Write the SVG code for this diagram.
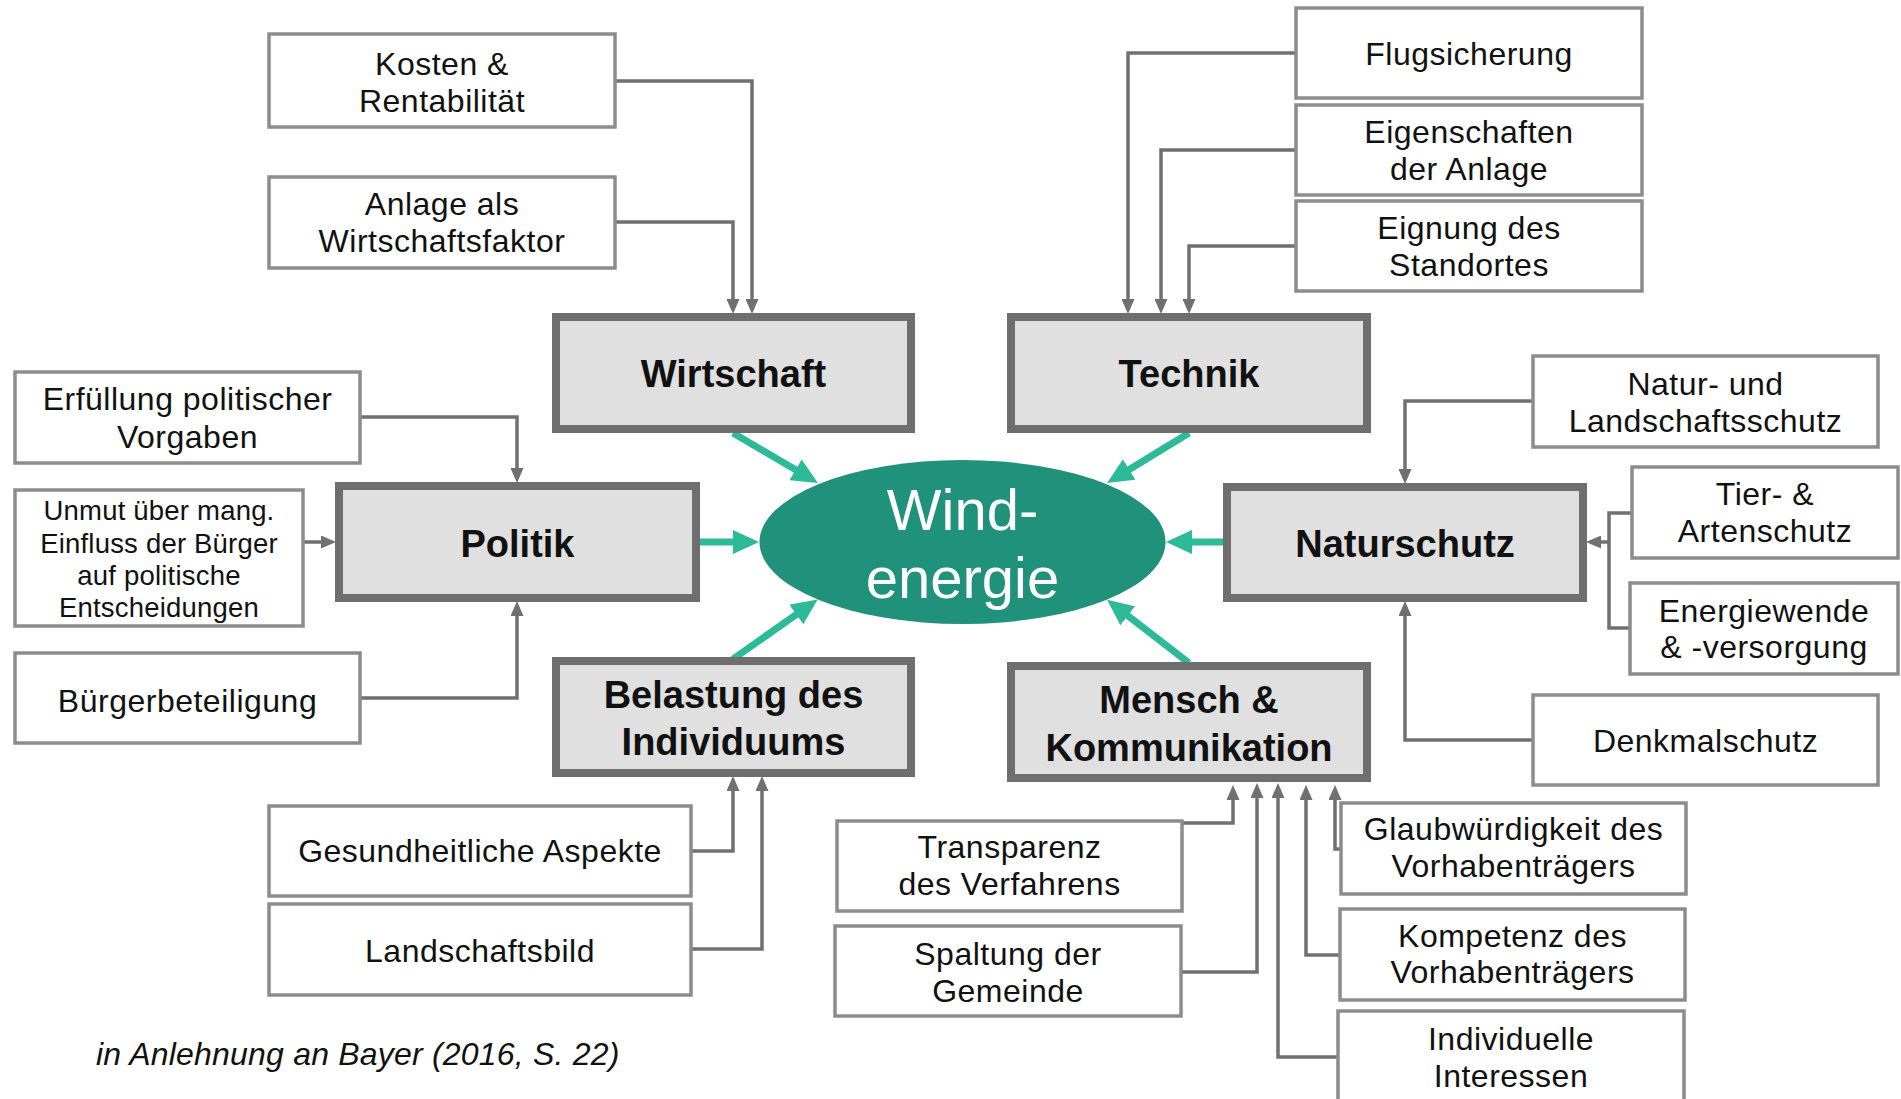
<svg xmlns="http://www.w3.org/2000/svg" width="1901" height="1099" viewBox="0 0 1901 1099">
<style>
.sb{fill:#fff;stroke:#8c8c8c;stroke-width:3.5}
.cb{fill:#e0e0e0;stroke:#6e6e6e;stroke-width:8}
.st{font-family:"Liberation Sans",Arial,sans-serif;font-size:32px;letter-spacing:0.5px;fill:#111;text-anchor:middle}
.sm{font-size:27.5px;letter-spacing:0.2px}
.ct{font-family:"Liberation Sans",Arial,sans-serif;font-size:38px;font-weight:bold;fill:#111;text-anchor:middle}
.gl{fill:none;stroke:#707070;stroke-width:3.5}
.gr{fill:none;stroke:#2dba98;stroke-width:7}
.cap{font-family:"Liberation Sans",Arial,sans-serif;font-size:32px;letter-spacing:0.2px;font-style:italic;fill:#111}
</style>
<defs>
<marker id="ga" markerUnits="userSpaceOnUse" viewBox="0 0 15 13" refX="0" refY="6.5" markerWidth="15" markerHeight="13" orient="auto"><path d="M0,0 L15,6.5 L0,13 z" fill="#707070"/></marker>
<marker id="gn" markerUnits="userSpaceOnUse" viewBox="0 0 26 24" refX="1" refY="12" markerWidth="26" markerHeight="24" orient="auto"><path d="M0,0 L26,12 L0,24 z" fill="#2dba98"/></marker>
</defs>

<g id="connectors">
<path class="gl" d="M615,81 H752 V299" marker-end="url(#ga)"/>
<path class="gl" d="M615,222 H733 V299" marker-end="url(#ga)"/>
<path class="gl" d="M1296,53 H1128 V299" marker-end="url(#ga)"/>
<path class="gl" d="M1296,150 H1161 V299" marker-end="url(#ga)"/>
<path class="gl" d="M1296,246 H1189 V299" marker-end="url(#ga)"/>
<path class="gl" d="M360,417 H517 V468" marker-end="url(#ga)"/>
<path class="gl" d="M303,542 H321" marker-end="url(#ga)"/>
<path class="gl" d="M360,698 H517 V616" marker-end="url(#ga)"/>
<path class="gl" d="M691,851 H733 V791" marker-end="url(#ga)"/>
<path class="gl" d="M691,949 H762 V791" marker-end="url(#ga)"/>
<path class="gl" d="M1182,823 H1233 V800" marker-end="url(#ga)"/>
<path class="gl" d="M1181,972 H1257 V798" marker-end="url(#ga)"/>
<path class="gl" d="M1338,1057 H1278 V798" marker-end="url(#ga)"/>
<path class="gl" d="M1340,955 H1306 V800" marker-end="url(#ga)"/>
<path class="gl" d="M1341,849 H1335 V800" marker-end="url(#ga)"/>
<path class="gl" d="M1533,401 H1405 V469" marker-end="url(#ga)"/>
<path class="gl" d="M1632,513 H1609 V628 H1630"/>
<path class="gl" d="M1609,542 H1601" marker-end="url(#ga)"/>
<path class="gl" d="M1533,740 H1405 V616" marker-end="url(#ga)"/>
<path class="gr" d="M733,433 L796.4,470.3" marker-end="url(#gn)"/>
<path class="gr" d="M1189,433 L1128.4,470" marker-end="url(#gn)"/>
<path class="gr" d="M700,542 L734,542" marker-end="url(#gn)"/>
<path class="gr" d="M1223,542 L1191,542" marker-end="url(#gn)"/>
<path class="gr" d="M733,659 L797.2,613.9" marker-end="url(#gn)"/>
<path class="gr" d="M1189,663 L1126.9,615.1" marker-end="url(#gn)"/>
</g>

<g id="windenergie">
<ellipse cx="962.5" cy="542" rx="203" ry="82" fill="#20917a"/>
<text x="962.5" y="530" font-family="Liberation Sans, Arial, sans-serif" font-size="58" fill="#fff" text-anchor="middle">Wind-</text>
<text x="962.5" y="598" font-family="Liberation Sans, Arial, sans-serif" font-size="58" fill="#fff" text-anchor="middle">energie</text>
</g>

<g id="wirtschaft"><rect class="cb" x="556" y="317" width="355" height="112"/><text class="ct" x="733.5" y="387">Wirtschaft</text></g>
<g id="technik"><rect class="cb" x="1011" y="317" width="356" height="112"/><text class="ct" x="1189" y="387">Technik</text></g>
<g id="politik"><rect class="cb" x="339" y="486" width="357" height="112"/><text class="ct" x="517.5" y="557">Politik</text></g>
<g id="naturschutz"><rect class="cb" x="1227" y="487" width="356" height="111"/><text class="ct" x="1405" y="557">Naturschutz</text></g>
<g id="belastung"><rect class="cb" x="556" y="661" width="355" height="112"/><text class="ct" x="733.5" y="708">Belastung des</text><text class="ct" x="733.5" y="755">Individuums</text></g>
<g id="mensch"><rect class="cb" x="1011" y="666" width="356" height="112"/><text class="ct" x="1189" y="713">Mensch &amp;</text><text class="ct" x="1189" y="761">Kommunikation</text></g>

<g id="kosten"><rect class="sb" x="269" y="34" width="346" height="93"/><text class="st" x="442" y="75">Kosten &amp;</text><text class="st" x="442" y="112">Rentabilität</text></g>
<g id="anlage"><rect class="sb" x="269" y="177" width="346" height="91"/><text class="st" x="442" y="215">Anlage als</text><text class="st" x="442" y="252">Wirtschaftsfaktor</text></g>
<g id="flugsicherung"><rect class="sb" x="1296" y="8" width="346" height="90"/><text class="st" x="1469" y="65">Flugsicherung</text></g>
<g id="eigenschaften"><rect class="sb" x="1296" y="105" width="346" height="90"/><text class="st" x="1469" y="143">Eigenschaften</text><text class="st" x="1469" y="180">der Anlage</text></g>
<g id="eignung"><rect class="sb" x="1296" y="201" width="346" height="90"/><text class="st" x="1469" y="239">Eignung des</text><text class="st" x="1469" y="276">Standortes</text></g>
<g id="erfuellung"><rect class="sb" x="15" y="372" width="345" height="91"/><text class="st" x="187.5" y="410">Erfüllung politischer</text><text class="st" x="187.5" y="448">Vorgaben</text></g>
<g id="unmut"><rect class="sb" x="15" y="490" width="288" height="136"/><text class="st sm" x="159" y="520">Unmut über mang.</text><text class="st sm" x="159" y="553">Einfluss der Bürger</text><text class="st sm" x="159" y="585">auf politische</text><text class="st sm" x="159" y="617">Entscheidungen</text></g>
<g id="buergerbeteiligung"><rect class="sb" x="15" y="653" width="345" height="90"/><text class="st" x="187.5" y="712">Bürgerbeteiligung</text></g>
<g id="gesundheit"><rect class="sb" x="269" y="806" width="422" height="90"/><text class="st" x="480" y="862">Gesundheitliche Aspekte</text></g>
<g id="landschaftsbild"><rect class="sb" x="269" y="904" width="422" height="91"/><text class="st" x="480" y="962">Landschaftsbild</text></g>
<g id="transparenz"><rect class="sb" x="837" y="821" width="345" height="90"/><text class="st" x="1009.5" y="858">Transparenz</text><text class="st" x="1009.5" y="895">des Verfahrens</text></g>
<g id="spaltung"><rect class="sb" x="835" y="926" width="346" height="90"/><text class="st" x="1008" y="965">Spaltung der</text><text class="st" x="1008" y="1002">Gemeinde</text></g>
<g id="glaubwuerdigkeit"><rect class="sb" x="1341" y="803" width="345" height="91"/><text class="st" x="1513.5" y="840">Glaubwürdigkeit des</text><text class="st" x="1513.5" y="877">Vorhabenträgers</text></g>
<g id="kompetenz"><rect class="sb" x="1340" y="909" width="345" height="91"/><text class="st" x="1512.5" y="947">Kompetenz des</text><text class="st" x="1512.5" y="983">Vorhabenträgers</text></g>
<g id="individuelle"><rect class="sb" x="1338" y="1011" width="346" height="100"/><text class="st" x="1511" y="1050">Individuelle</text><text class="st" x="1511" y="1087">Interessen</text></g>
<g id="natur"><rect class="sb" x="1533" y="356" width="345" height="91"/><text class="st" x="1705.5" y="395">Natur- und</text><text class="st" x="1705.5" y="432">Landschaftsschutz</text></g>
<g id="tier"><rect class="sb" x="1632" y="467" width="266" height="91"/><text class="st" x="1765" y="505">Tier- &amp;</text><text class="st" x="1765" y="542">Artenschutz</text></g>
<g id="energiewende"><rect class="sb" x="1630" y="583" width="268" height="91"/><text class="st" x="1764" y="622">Energiewende</text><text class="st" x="1764" y="658">&amp; -versorgung</text></g>
<g id="denkmal"><rect class="sb" x="1533" y="695" width="345" height="90"/><text class="st" x="1705.5" y="752">Denkmalschutz</text></g>

<text class="cap" x="96" y="1065">in Anlehnung an Bayer (2016, S. 22)</text>
</svg>
